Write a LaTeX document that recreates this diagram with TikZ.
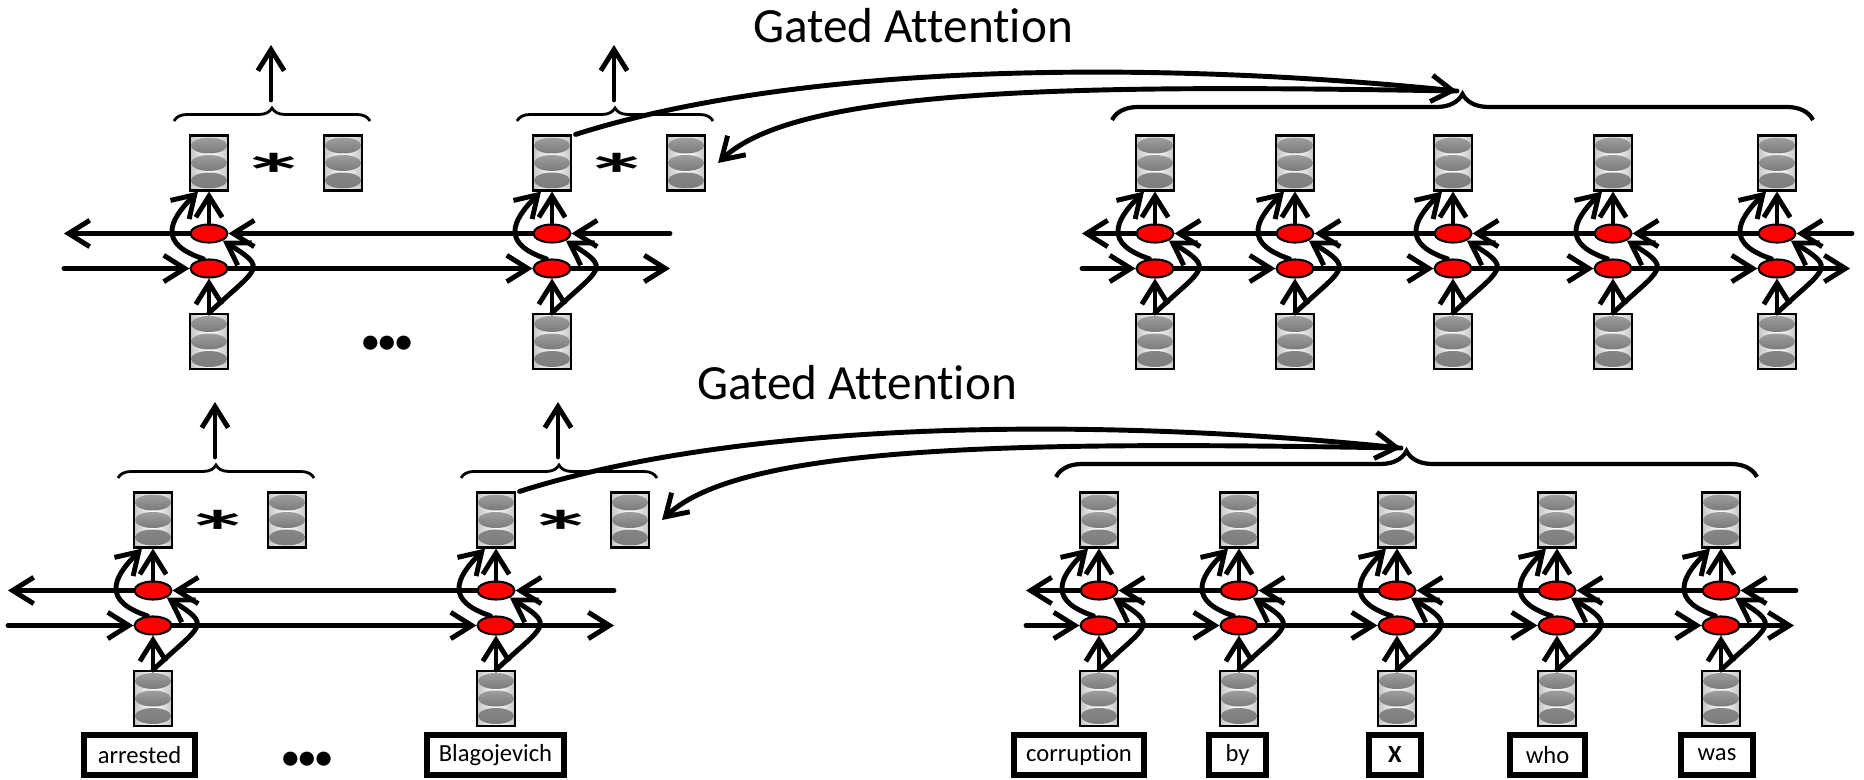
\documentclass[tikz,border=0pt]{standalone}
\usepackage{fontspec}
\setmainfont{Carlito}[Ligatures=NoCommon]
\usetikzlibrary{arrows.meta,shapes.geometric,decorations.pathreplacing}

\tikzset{
  vec/.style={draw, line width=0.6pt, minimum width=0.38cm, minimum height=0.55cm, inner sep=0,
    left color=gray!45, right color=gray!45, middle color=white,
    path picture={\foreach \k in {-1,0,1}
      \shade[top color=black!38, bottom color=black!52]
        ([yshift=\k*0.175cm]path picture bounding box.center) ellipse (0.18cm and 0.08cm);}},
  cell/.style={ellipse, draw, line width=0.6pt, fill=red, minimum width=0.37cm, minimum height=0.18cm, inner sep=0},
  word/.style={draw, line width=1.5pt, minimum height=0.40cm, inner sep=0, font=\fontsize{7}{8}\selectfont},
  arr/.style={line width=1.4pt, line cap=round, -{Straight Barb[length=6pt,width=7.5pt]}},
  brc/.style={decorate, decoration={brace, amplitude=#1}},
}

\begin{document}
\begin{tikzpicture}
 \useasboundingbox (0,0) rectangle (18.64,7.79);
 % two layers, the lower one is the upper one shifted
 \foreach \ly/\dx/\dy in {a/0/0, b/-0.56/-3.57} {
  \begin{scope}[shift={(\dx,\dy)}]
   \node[anchor=base, font=\fontsize{14}{16}\selectfont] (\ly ga) at (9.13,7.36) {Gated Attention};
   % columns
   \foreach \id/\x in {q1/2.09, q2/5.52, d1/11.55, d2/12.95, d3/14.53, d4/16.13, d5/17.77} {
     \node[vec] (\ly\id u) at (\x,6.16) {};
     \node[cell] (\ly\id h) at (\x,5.455) {};
     \node[cell] (\ly\id f) at (\x,5.105) {};
     \node[vec] (\ly\id x) at (\x,4.375) {};
     \draw[arr] (\ly\id x) -- (\ly\id f);
     \draw[arr] (\ly\id h) -- (\ly\id u);
     \draw[arr] (\ly\id x.north) .. controls +(0.49,0.46) and +(0.46,-0.285) .. (\ly\id h.south east);
     \draw[arr] (\ly\id f.120) .. controls +(-0.45,0.15) and +(-0.30,-0.30) .. ([xshift=-0.11cm]\ly\id u.south);
   }
   % query side: product and brace
   \foreach \id/\x in {q1/2.09, q2/5.52} {
     \node[vec] (\ly\id p) at (\x+1.34,6.16) {};
     \node[anchor=base] (\ly\id s) at (\x+0.655,5.83) {\scalebox{2.4}[1.05]{\fontsize{16}{16}\selectfont\bfseries *}};
     \draw[brc=0.13cm, line width=0.8pt] (\x-0.35,6.58) -- (\x+1.61,6.58);
     \coordinate (\ly\id b) at (\x+0.62,6.79);
     \coordinate (\ly\id t) at (\x+0.62,7.34);
     \draw[arr] (\ly\id b) -- (\ly\id t);
   }
   % recurrent lines
   \coordinate (\ly qlh) at (0.64,5.455);
   \coordinate (\ly qrh) at (6.70,5.455);
   \coordinate (\ly qlf) at (0.64,5.105);
   \coordinate (\ly qrf) at (6.70,5.105);
   \draw[arr] (\ly qrh) -- (\ly q2h);
   \draw[arr] (\ly q2h) -- (\ly q1h);
   \draw[arr] (\ly q1h) -- (\ly qlh);
   \draw[arr] (\ly qlf) -- (\ly q1f);
   \draw[arr] (\ly q1f) -- (\ly q2f);
   \draw[arr] (\ly q2f) -- (\ly qrf);
   \coordinate (\ly dlh) at (10.82,5.455);
   \coordinate (\ly drh) at (18.52,5.455);
   \coordinate (\ly dlf) at (10.82,5.105);
   \coordinate (\ly drf) at (18.50,5.105);
   \draw[arr] (\ly drh) -- (\ly d5h);
   \draw[arr] (\ly d1h) -- (\ly dlh);
   \draw[arr] (\ly dlf) -- (\ly d1f);
   \draw[arr] (\ly d5f) -- (\ly drf);
   \foreach \p/\n in {d1/d2, d2/d3, d3/d4, d4/d5} {
     \draw[arr] (\ly\n h) -- (\ly\p h);
     \draw[arr] (\ly\p f) -- (\ly\n f);
   }
   % document brace and attention
   \draw[brc=0.26cm, line width=1.2pt] (11.12,6.59) -- (18.13,6.59);
   \coordinate (\ly tip) at (14.57,6.88);
   \draw[arr] ([xshift=1pt]\ly q2u.north east) .. controls (8.00,7.16) and (11.50,7.19) .. (\ly tip);
   \draw[arr] (\ly tip) .. controls (11.00,6.94) and (8.00,6.94) .. ([xshift=0.12cm]\ly q2p.east);
  \end{scope}
 }
 \node[font=\fontsize{9.5}{9.5}\selectfont\bfseries] (dta) at (3.87,4.35) {•••};
 \node[font=\fontsize{9.5}{9.5}\selectfont\bfseries] (dtb) at (3.07,0.19) {•••};
 % words
 \node[word, minimum width=1.11cm] (w1) at (1.395,0.24) {arrested};
 \node[word, minimum width=1.37cm] (w2) at (4.955,0.24) {Blagojevich};
 \node[word, minimum width=1.30cm] (w3) at (10.79,0.24) {corruption};
 \node[word, minimum width=0.57cm] (w4) at (12.375,0.24) {by};
 \node[word, minimum width=0.52cm] (w5) at (13.95,0.24) {\textbf{X}};
 \node[word, minimum width=0.75cm] (w6) at (15.475,0.24) {who};
 \node[word, minimum width=0.72cm] (w7) at (17.17,0.24) {was};
\end{tikzpicture}
\end{document}
